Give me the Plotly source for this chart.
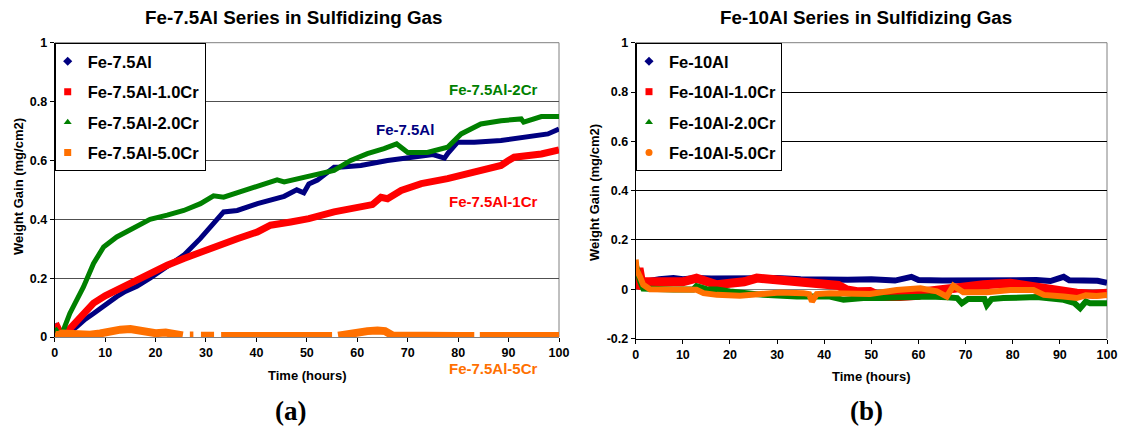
import plotly.graph_objects as go

# ---------------- data: (a) Fe-7.5Al series ----------------
a_names = ["Fe-7.5Al", "Fe-7.5Al-1.0Cr", "Fe-7.5Al-2.0Cr", "Fe-7.5Al-5.0Cr"]

a_blue_t = [0, 0.5, 1.2, 2.5, 4.4, 6, 7.7, 10, 12.3, 14, 16.3, 18.9, 22.3, 25.6, 28.9, 31, 32.2, 33.5,
            36.2, 40.2, 45.5, 48, 49.4, 50.4, 52.1, 55.4, 57, 60.7, 66, 72, 75, 77.3, 78, 79.9, 83.2,
            88.5, 93.8, 97.8, 100]
a_blue_v = [0.045, 0.03, 0.0, 0.01, 0.035, 0.06, 0.08, 0.11, 0.137, 0.155, 0.172, 0.2, 0.238, 0.278,
            0.335, 0.375, 0.4, 0.425, 0.43, 0.453, 0.478, 0.5, 0.49, 0.52, 0.533, 0.577, 0.578, 0.583,
            0.6, 0.612, 0.62, 0.608, 0.625, 0.662, 0.662, 0.668, 0.679, 0.69, 0.707]

a_red_t = [0, 0.5, 1.5, 3, 4.4, 6, 7.7, 10, 12.3, 16.3, 18.9, 22.3, 25.6, 28.9, 32.2, 36.2, 40.2, 42.8,
           46.8, 50.4, 55.4, 60.7, 63, 64.7, 66, 68.7, 72.7, 77.9, 83.2, 88.5, 90, 91.1, 96.5, 100]
a_red_v = [0.03, 0.035, 0.0, 0.03, 0.058, 0.085, 0.115, 0.14, 0.16, 0.193, 0.215, 0.244, 0.267, 0.289,
           0.312, 0.334, 0.357, 0.38, 0.391, 0.402, 0.425, 0.441, 0.45, 0.475, 0.47, 0.498, 0.521,
           0.538, 0.56, 0.583, 0.6, 0.611, 0.622, 0.636]

a_green_t = [0, 0.5, 1.2, 3, 5.7, 7.7, 9.7, 12.3, 15.6, 18.9, 22.3, 25.6, 28.9, 31.5, 33.5, 38.8, 44.1,
             45.5, 50.8, 55.4, 58.7, 62, 65.3, 67.8, 70, 73.9, 77.9, 80.6, 84.5, 88.5, 92.5, 93, 96.5, 100]
a_green_v = [0.03, 0.02, 0.0, 0.08, 0.17, 0.25, 0.306, 0.34, 0.37, 0.4, 0.414, 0.43, 0.453, 0.48, 0.475,
             0.504, 0.534, 0.527, 0.546, 0.566, 0.6, 0.623, 0.64, 0.656, 0.627, 0.627, 0.645, 0.69,
             0.724, 0.735, 0.741, 0.73, 0.749, 0.749]

a_orange_t = [0, 0.5, 1.5, 3, 5, 7, 9, 11, 13, 15, 16.5, 18, 20, 22, 24, 25.4, 26, 26.8, 27.5, 28.2, 29,
              31.6, 32.3, 33, 40, 50, 55, 55.6, 56.2, 58, 60, 62, 64, 65.5, 67, 70, 80, 83.2, 83.7,
              84.3, 87, 90, 100]
a_orange_v = [0.008, 0.005, 0.012, 0.01, 0.012, 0.008, 0.012, 0.02, 0.025, 0.027, 0.022, 0.02, 0.013,
              0.015, 0.008, 0.005, None, 0.005, 0.005, None, 0.004, 0.004, None, 0.003, 0.003, 0.003,
              0.003, None, 0.004, 0.01, 0.017, 0.02, 0.022, 0.02, 0.005, 0.003, 0.003, 0.003, None,
              0.003, 0.005, 0.003, 0.003]

# ---------------- data: (b) Fe-10Al series ----------------
b_names = ["Fe-10Al", "Fe-10Al-1.0Cr", "Fe-10Al-2.0Cr", "Fe-10Al-5.0Cr"]

b_blue_t = [0, 0.5, 1, 2, 5, 8, 10, 13, 16, 20, 25, 30, 35, 40, 43, 45, 50, 55, 58.5, 60, 65, 70, 75,
            80, 85, 88, 90.8, 92, 95, 98, 100]
b_blue_v = [0.03, 0.045, 0.035, 0.03, 0.04, 0.045, 0.04, 0.045, 0.043, 0.045, 0.043, 0.045, 0.04,
            0.038, 0.035, 0.038, 0.04, 0.035, 0.05, 0.037, 0.035, 0.037, 0.036, 0.037, 0.037, 0.033,
            0.05, 0.036, 0.036, 0.034, 0.026]

b_red_t = [0, 0.3, 0.7, 1.2, 2, 5, 8, 10, 12.9, 15, 17.2, 20, 23, 25.7, 30.6, 35.6, 39.8, 43, 44.8, 47,
           49.7, 52, 56, 60, 61.8, 65, 68.2, 73.8, 79.5, 83.7, 86, 88.7, 93.6, 97, 100]
b_red_v = [0.0, 0.06, 0.085, 0.03, 0.03, 0.035, 0.035, 0.03, 0.045, 0.03, 0.018, 0.024, 0.03, 0.045,
           0.038, 0.024, 0.018, 0.015, -0.003, -0.01, -0.009, -0.03, -0.03, -0.025, -0.009, 0.0, 0.011,
           0.018, 0.024, 0.011, 0.0, -0.009, -0.016, -0.02, -0.016]

b_green_t = [0, 0.4, 1, 1.6, 4, 8, 12.2, 12.9, 15, 17.2, 20, 27.1, 34.2, 41.2, 44.1, 48.3, 52, 56.8,
             62.5, 66, 68.2, 69.2, 70.5, 74, 74.5, 75.5, 78, 85.1, 88, 90.8, 93, 94.3, 95.5, 96.4, 100]
b_green_v = [0.1, 0.06, 0.03, 0.003, 0.0, -0.001, -0.001, 0.012, 0.0, -0.001, -0.009, -0.023, -0.03,
             -0.03, -0.043, -0.036, -0.036, -0.032, -0.03, -0.033, -0.036, -0.057, -0.04, -0.04,
             -0.064, -0.04, -0.036, -0.032, -0.038, -0.043, -0.055, -0.077, -0.05, -0.057, -0.057]

b_orange_t = [0, 0.2, 0.9, 1.6, 3, 8, 11.5, 12.9, 14.4, 17.2, 22.1, 27.1, 30.6, 35.6, 36.8, 37.4, 38.4,
              41.2, 44.8, 49.7, 55.4, 60.4, 63.9, 66, 67.4, 69.5, 74.5, 79.5, 84.4, 86.6, 90.8, 93.6,
              95.5, 97.8, 100]
b_orange_v = [0.12, 0.079, 0.051, 0.018, 0.0, 0.0, 0.0, -0.002, -0.016, -0.023, -0.027, -0.016, -0.013,
              -0.016, -0.02, -0.05, -0.02, -0.016, -0.016, -0.019, -0.003, 0.004, -0.009, -0.03, 0.014,
              -0.012, -0.012, -0.003, -0.003, -0.023, -0.03, -0.036, -0.025, -0.028, -0.023]

x_ticks = [0, 10, 20, 30, 40, 50, 60, 70, 80, 90, 100]
x_ticktext = ["0", "10", "20", "30", "40", "50", "60", "70", "80", "90", "100"]
ya_ticks = [0, 0.2, 0.4, 0.6, 0.8, 1]
ya_ticktext = ["0", "0.2", "0.4", "0.6", "0.8", "1"]
yb_ticks = [-0.2, 0, 0.2, 0.4, 0.6, 0.8, 1]
yb_ticktext = ["-0.2", "0", "0.2", "0.4", "0.6", "0.8", "1"]

NAVY, RED, GREEN, ORANGE = "#000080", "#FF0000", "#008000", "#FF7000"
colors = [NAVY, RED, GREEN, ORANGE]
a_symbols = ["diamond", "square", "triangle-up", "square"]
b_symbols = ["diamond", "square", "triangle-up", "circle"]
a_widths = [5, 7, 5, 8]
b_widths = [6, 9, 6, 6]

FONT = "Arial, 'Liberation Sans', sans-serif"
W, H = 1123, 426


def px(x):
    return x / W


def py(y):
    return 1 - y / H


fig = go.Figure()

a_series = [(a_blue_t, a_blue_v), (a_red_t, a_red_v), (a_green_t, a_green_v), (a_orange_t, a_orange_v)]
b_series = [(b_blue_t, b_blue_v), (b_red_t, b_red_v), (b_green_t, b_green_v), (b_orange_t, b_orange_v)]

for i, (t, v) in enumerate(a_series):
    fig.add_trace(go.Scatter(x=t, y=v, mode="lines", line=dict(color=colors[i], width=a_widths[i]),
                             showlegend=False, xaxis="x", yaxis="y", connectgaps=False))
for i, (t, v) in enumerate(b_series):
    fig.add_trace(go.Scatter(x=t, y=v, mode="lines", line=dict(color=colors[i], width=b_widths[i]),
                             showlegend=False, xaxis="x2", yaxis="y2"))

# legend entries (marker only)
for i, n in enumerate(a_names):
    fig.add_trace(go.Scatter(x=[None], y=[None], mode="markers", name=n, legend="legend",
                             legendgroup="a" + str(i),
                             marker=dict(color=colors[i], symbol=a_symbols[i], size=7),
                             xaxis="x", yaxis="y"))
for i, n in enumerate(b_names):
    fig.add_trace(go.Scatter(x=[None], y=[None], mode="markers", name=n, legend="legend2",
                             legendgroup="b" + str(i),
                             marker=dict(color=colors[i], symbol=b_symbols[i], size=7),
                             xaxis="x2", yaxis="y2"))

tickfont = dict(family=FONT, size=12.5, color="black", weight="bold")
axis_common = dict(showline=True, linecolor="black", linewidth=1, ticks="outside", ticklen=4,
                   tickcolor="black", tickfont=tickfont, zeroline=False, automargin=False,
                   fixedrange=True)

fig.update_layout(
    width=W, height=H, margin=dict(l=0, r=0, t=0, b=0),
    paper_bgcolor="white", plot_bgcolor="white",
    font=dict(family=FONT, color="black"),
    xaxis=dict(domain=[px(54.7), px(559)], range=[0, 100], tickvals=x_ticks, ticktext=x_ticktext,
               showgrid=False, anchor="y", **{**axis_common, "linecolor": "#808080"}),
    yaxis=dict(domain=[py(337), py(42.7)], range=[0, 1], tickvals=ya_ticks, ticktext=ya_ticktext,
               showgrid=True, gridcolor="#505050", gridwidth=1, anchor="x", **axis_common),
    xaxis2=dict(domain=[px(635.7), px(1107)], range=[0, 100], tickvals=x_ticks, ticktext=x_ticktext,
                showgrid=False, anchor="y2", **axis_common),
    yaxis2=dict(domain=[py(338.5), py(42.7)], range=[-0.2, 1], tickvals=yb_ticks, ticktext=yb_ticktext,
                showgrid=True, gridcolor="black", gridwidth=1, anchor="x2",
                zeroline=True, zerolinecolor="#808080", zerolinewidth=1,
                **{k: v for k, v in axis_common.items() if k != "zeroline"}),
    legend=dict(x=px(54.7), y=py(43), xanchor="left", yanchor="top", bgcolor="white",
                bordercolor="black", borderwidth=1, traceorder="grouped", tracegroupgap=6,
                indentation=-8,
                font=dict(family=FONT, size=16.5, color="black", weight="bold")),
    legend2=dict(x=px(636), y=py(43), xanchor="left", yanchor="top", bgcolor="white",
                 bordercolor="black", borderwidth=1, traceorder="grouped", tracegroupgap=6,
                 indentation=-8,
                 font=dict(family=FONT, size=16.5, color="black", weight="bold")),
)

# plot-area border (top and right) in grey
for xr, yr in (("x", "y"), ("x2", "y2")):
    fig.add_shape(type="line", xref=xr + " domain", yref=yr + " domain", x0=0, x1=1, y0=1, y1=1,
                  line=dict(color="#808080", width=1), layer="below")
    fig.add_shape(type="line", xref=xr + " domain", yref=yr + " domain", x0=1, x1=1, y0=0, y1=1,
                  line=dict(color="#808080", width=1), layer="below")


def bold(size, color="black", family=FONT):
    return dict(family=family, size=size, color=color, weight="bold")


SERIF = "'Times New Roman', 'Liberation Serif', serif"
texts = [
    ("Fe-7.5Al Series in Sulfidizing Gas", 293, 17, bold(18.8), 0),
    ("Fe-10Al Series in Sulfidizing Gas", 866, 18, bold(18.8), 0),
    ("Time (hours)", 307, 375, bold(13), 0),
    ("Time (hours)", 871.5, 376.5, bold(13), 0),
    ("Weight Gain (mg/cm2)", 18, 187, bold(13), -90),
    ("Weight Gain (mg/cm2)", 594, 193, bold(13), -90),
    ("Fe-7.5Al-2Cr", 493, 90, bold(15, GREEN), 0),
    ("Fe-7.5Al", 405, 129, bold(15, NAVY), 0),
    ("Fe-7.5Al-1Cr", 493, 202, bold(15, RED), 0),
    ("Fe-7.5Al-5Cr", 493, 368, bold(15, ORANGE), 0),
    ("(a)", 290, 411, bold(27, family=SERIF), 0),
    ("(b)", 866, 411, bold(27, family=SERIF), 0),
]
for txt, x, y, f, ang in texts:
    fig.add_annotation(text=txt, x=px(x), y=py(y), xref="paper", yref="paper", showarrow=False,
                       xanchor="center", yanchor="middle", font=f, textangle=ang)

fig.write_html("out.html")
